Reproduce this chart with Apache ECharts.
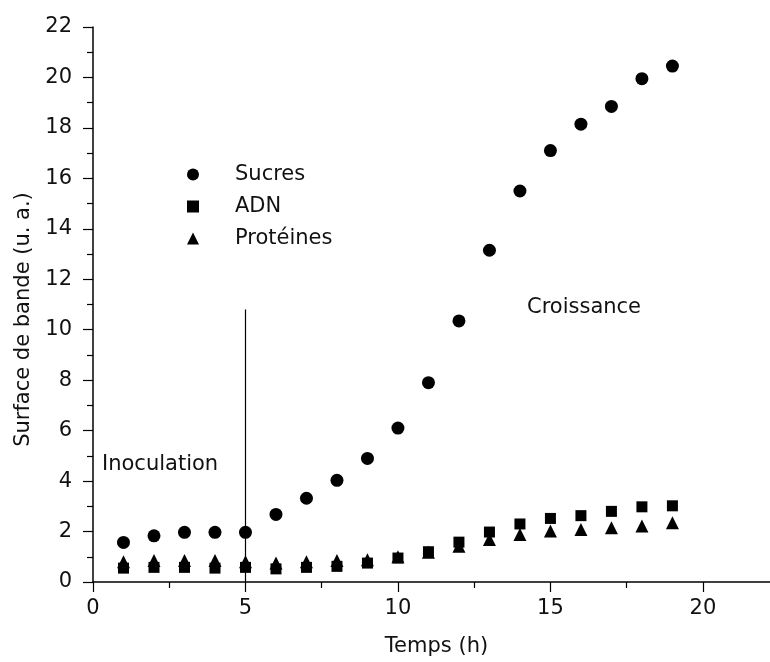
<!DOCTYPE html>
<html><head><meta charset="utf-8">
<script src="https://cdn.jsdelivr.net/npm/echarts@6/dist/echarts.min.js"></script>
<style>html,body{margin:0;padding:0;background:#fff}#c{width:770px;height:662px}</style>
</head><body><div id="c"></div>
<script>
// ---- data ----
const hours = [1,2,3,4,5,6,7,8,9,10,11,12,13,14,15,16,17,18,19];
const sucres = [1.57,1.83,1.97,1.97,1.97,2.68,3.32,4.03,4.9,6.1,7.9,10.35,13.15,15.5,17.1,18.15,18.85,19.95,20.45];
const adn = [0.55,0.58,0.58,0.55,0.58,0.52,0.58,0.62,0.75,0.95,1.2,1.58,1.98,2.3,2.52,2.63,2.8,2.98,3.02];
const proteines = [0.8,0.85,0.85,0.85,0.8,0.75,0.8,0.85,0.88,1.0,1.18,1.42,1.68,1.88,2.02,2.08,2.15,2.22,2.35];
const seriesNames = ['Sucres','ADN','Protéines'];
const xMajorTicks = [0,5,10,15,20];
const xMinorTicks = [2.5,7.5,12.5,17.5];
const inoculation = {x: 5, top: 10.8};
const annotations = {left: 'Inoculation', right: 'Croissance'};

const FONT = 'DejaVu Sans';
const TXT = '#111';
const pts = a => hours.map((h,i)=>[h,a[i]]);

const chart = echarts.init(document.getElementById('c'), null, {renderer:'canvas'});
chart.setOption({
  animation:false,
  backgroundColor:'#fff',
  grid:{left:93, right:0, top:27, bottom:77},
  legend:{
    orient:'vertical', left:182, top:159, itemWidth:12, itemHeight:12, itemGap:11,
    data:[{name:seriesNames[0],icon:'circle'},{name:seriesNames[1],icon:'rect'},{name:seriesNames[2],icon:'triangle'}],
    formatter: n => '{t|'+n+'}',
    textStyle:{fontFamily:FONT, fontSize:21, color:TXT, rich:{t:{fontFamily:FONT,fontSize:21,color:TXT,padding:[0,0,0,31]}}}
  },
  xAxis:[{
    type:'value', min:0, max:22.2,
    name:'Temps (h)', nameLocation:'middle', nameGap:54,
    nameTextStyle:{fontFamily:FONT, fontSize:21, color:TXT, padding:[0,0,0,10]},
    axisLine:{show:true, onZero:false, lineStyle:{color:'#000', width:1.5}},
    axisTick:{show:true, customValues:xMajorTicks, length:10, lineStyle:{color:'#000', width:1.2}},
    axisLabel:{customValues:xMajorTicks, margin:16, fontFamily:FONT, fontSize:21, color:TXT},
    splitLine:{show:false}
  },{
    type:'value', min:0, max:22.2, position:'bottom',
    axisLine:{show:false},
    axisTick:{show:true, customValues:xMinorTicks, length:6, lineStyle:{color:'#000', width:1.2}},
    axisLabel:{show:false},
    splitLine:{show:false}
  }],
  yAxis:{
    type:'value', min:0, max:22, interval:2,
    name:'Surface de bande (u. a.)', nameLocation:'middle', nameGap:59, nameRotate:90,
    nameTextStyle:{fontFamily:FONT, fontSize:21, color:TXT, padding:[0,30,0,0]},
    axisLine:{show:true, onZero:false, lineStyle:{color:'#000', width:1.5}},
    axisTick:{show:true, length:10, lineStyle:{color:'#000', width:1.2}},
    minorTick:{show:true, splitNumber:2, length:6, lineStyle:{color:'#000', width:1.2}},
    axisLabel:{margin:21, fontFamily:FONT, fontSize:21, color:TXT},
    splitLine:{show:false}, minorSplitLine:{show:false}
  },
  graphic:[
    {type:'text', left:102, top:454, style:{text:annotations.left, font:'21px "DejaVu Sans"', fill:TXT}},
    {type:'text', left:527, top:297, style:{text:annotations.right, font:'21px "DejaVu Sans"', fill:TXT}}
  ],
  series:[
    {name:seriesNames[2], type:'scatter', symbol:'triangle', symbolSize:[13,13], data:pts(proteines), itemStyle:{color:'#000', opacity:1}},
    {name:seriesNames[1], type:'scatter', symbol:'rect', symbolSize:11, data:pts(adn), itemStyle:{color:'#000', opacity:1}},
    {name:seriesNames[0], type:'scatter', symbol:'circle', symbolSize:13, data:pts(sucres), itemStyle:{color:'#000', opacity:1},
      markLine:{silent:true, symbol:['none','none'], label:{show:false}, lineStyle:{color:'#000', width:1.2, type:'solid'},
        data:[[{coord:[inoculation.x,0]},{coord:[inoculation.x,inoculation.top]}]]}}
  ]
});
</script></body></html>
